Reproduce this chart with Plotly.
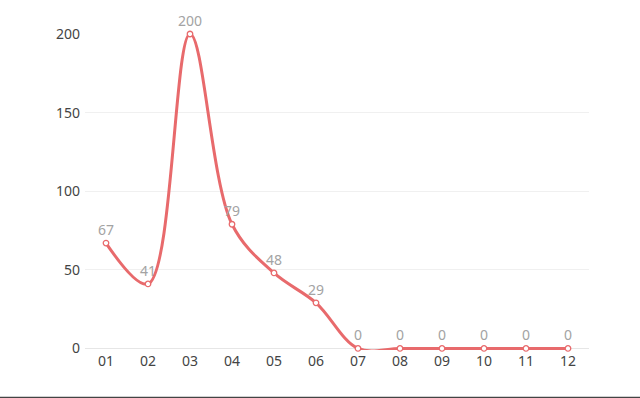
import plotly.graph_objects as go

months = ["01", "02", "03", "04", "05", "06", "07", "08", "09", "10", "11", "12"]
values = [67, 41, 200, 79, 48, 29, 0, 0, 0, 0, 0, 0]
y_ticks = [0, 50, 100, 150, 200]

LINE = "#e86a6c"
FONT = "Noto Sans, Open Sans, sans-serif"

W, H = 640, 398
L, T, R = 85, 34, 51
ymin, ymax = -1, 200
px_per_unit = 314 / 200
plot_h = (ymax - ymin) * px_per_unit
B = H - T - plot_h
plot_w = W - L - R

fig = go.Figure()
fig.add_trace(go.Scatter(
    x=months, y=values, mode="lines+markers+text",
    line=dict(color=LINE, width=3, shape="spline", smoothing=1),
    marker=dict(size=5.5, color="white", line=dict(color=LINE, width=1.3)),
    text=[str(v) for v in values], textposition="top center",
    textfont=dict(color="#a3a3a3", size=14, family=FONT),
    cliponaxis=False, hoverinfo="x+y",
))

# thin dark rule along the bottom edge of the picture
fig.add_shape(type="rect", xref="paper", yref="paper",
              x0=-L / plot_w, x1=(W - L) / plot_w,
              y0=-B / plot_h, y1=-(B - 1.8) / plot_h,
              fillcolor="#444444", line=dict(width=0), layer="above")

fig.update_layout(
    width=W, height=H,
    margin=dict(l=L, r=R, t=T, b=B, pad=0),
    paper_bgcolor="white", plot_bgcolor="white",
    showlegend=False,
    font=dict(family=FONT, size=14, color="#333333"),
    xaxis=dict(type="category", range=[-0.5, 11.5], showgrid=False,
               showline=False, ticks="", ticklabelstandoff=1,
               tickfont=dict(size=14, color="#444444"), zeroline=False),
    yaxis=dict(range=[ymin, ymax], tickvals=y_ticks, showgrid=True, gridcolor="#f0f0f0",
               gridwidth=1, zeroline=True, zerolinecolor="#e6e6e6", zerolinewidth=1,
               showline=False, ticks="", ticklabelstandoff=4,
               tickfont=dict(size=14, color="#444444")),
)

fig.write_html("out.html",
               config={"displayModeBar": False},
               post_script="document.body.style.margin='0';document.body.style.overflow='hidden';")
